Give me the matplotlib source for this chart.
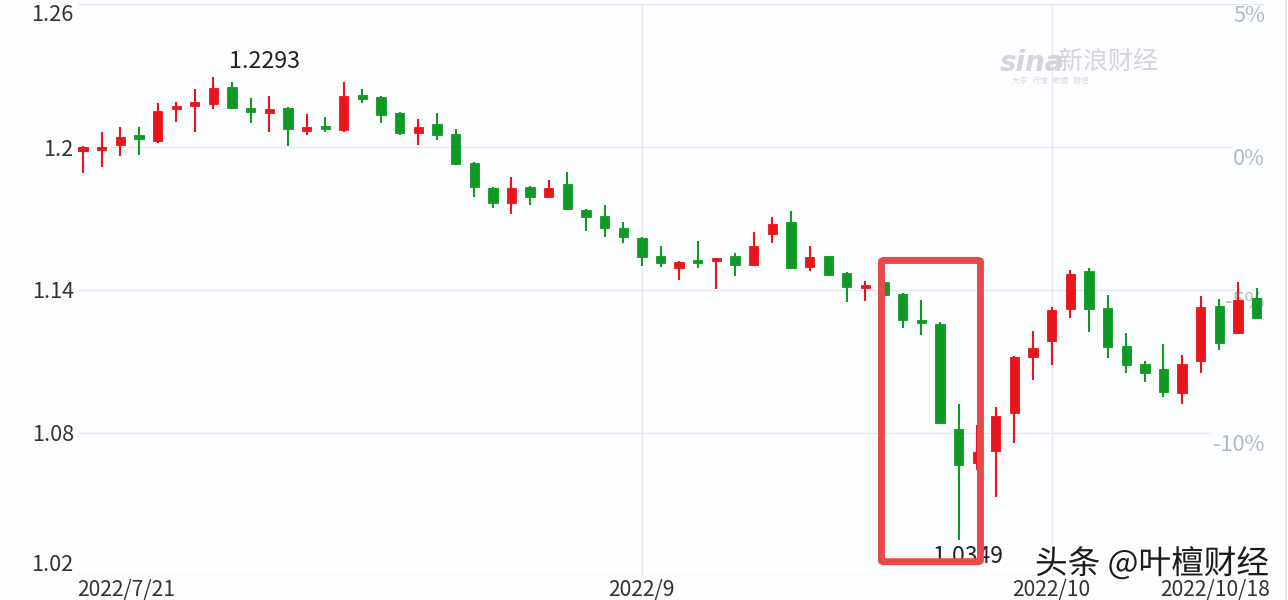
import matplotlib
matplotlib.use("Agg")
import matplotlib.pyplot as plt
import matplotlib.patheffects as pe
import matplotlib.transforms as mtrans
from matplotlib.patches import FancyBboxPatch
import numpy as np
import pandas as pd

plt.rcParams['font.family'] = ['Noto Sans CJK SC', 'DejaVu Sans']

# ---------------- data ----------------
dates = pd.bdate_range("2022-07-21", "2022-10-18")

opens = [1.1987, 1.1992, 1.2008, 1.2050, 1.2025, 1.2160, 1.2176, 1.2181, 1.2252, 1.2164,
         1.2147, 1.2164, 1.2071, 1.2084, 1.2071, 1.2218, 1.2210, 1.2143, 1.2059, 1.2097,
         1.2055, 1.1933, 1.1828, 1.1765, 1.1832, 1.1790, 1.1845, 1.1735, 1.1710, 1.1660,
         1.1618, 1.1542, 1.1492, 1.1525, 1.1521, 1.1542, 1.1504, 1.1635, 1.1685, 1.1496,
         1.1542, 1.1471, 1.1412, 1.1433, 1.1383, 1.1273, 1.1257, 1.0815, 1.0673, 1.0723,
         1.0883, 1.1118, 1.1185, 1.1320, 1.1479, 1.1324, 1.1164, 1.1089, 1.1068, 1.0967,
         1.1101, 1.1332, 1.1219, 1.1366]
closes = [1.1996, 1.1996, 1.2042, 1.2034, 1.2151, 1.2168, 1.2185, 1.2248, 1.2164, 1.2147,
          1.2155, 1.2076, 1.2080, 1.2076, 1.2214, 1.2202, 1.2134, 1.2059, 1.2084, 1.2050,
          1.1929, 1.1832, 1.1765, 1.1828, 1.1790, 1.1828, 1.1739, 1.1706, 1.1660, 1.1622,
          1.1538, 1.1513, 1.1517, 1.1517, 1.1534, 1.1504, 1.1584, 1.1677, 1.1492, 1.1538,
          1.1462, 1.1412, 1.1420, 1.1378, 1.1273, 1.1261, 1.0840, 1.0664, 1.0719, 1.0870,
          1.1118, 1.1156, 1.1315, 1.1467, 1.1320, 1.1160, 1.1084, 1.1050, 1.0972, 1.1089,
          1.1328, 1.1177, 1.1357, 1.1282]
highs = [1.2004, 1.2063, 1.2084, 1.2084, 1.2185, 1.2189, 1.2244, 1.2293, 1.2273, 1.2206,
         1.2214, 1.2168, 1.2139, 1.2126, 1.2273, 1.2244, 1.2214, 1.2147, 1.2118, 1.2143,
         1.2076, 1.1937, 1.1832, 1.1874, 1.1836, 1.1861, 1.1895, 1.1739, 1.1756, 1.1685,
         1.1622, 1.1584, 1.1521, 1.1605, 1.1534, 1.1555, 1.1643, 1.1706, 1.1731, 1.1584,
         1.1542, 1.1475, 1.1437, 1.1437, 1.1387, 1.1357, 1.1265, 1.0920, 1.0832, 1.0908,
         1.1122, 1.1227, 1.1328, 1.1483, 1.1492, 1.1378, 1.1219, 1.1101, 1.1173, 1.1126,
         1.1374, 1.1361, 1.1433, 1.1408]
lows = [1.1891, 1.1916, 1.1962, 1.1966, 1.2017, 1.2105, 1.2063, 1.2160, 1.2160, 1.2101,
        1.2063, 1.2004, 1.2050, 1.2063, 1.2063, 1.2185, 1.2101, 1.2050, 1.2008, 1.2029,
        1.1924, 1.1790, 1.1744, 1.1719, 1.1756, 1.1786, 1.1735, 1.1647, 1.1622, 1.1597,
        1.1500, 1.1496, 1.1441, 1.1492, 1.1403, 1.1458, 1.1500, 1.1597, 1.1488, 1.1479,
        1.1458, 1.1349, 1.1353, 1.1374, 1.1240, 1.1210, 1.0836, 1.0349, 1.0643, 1.0530,
        1.0757, 1.1021, 1.1084, 1.1282, 1.1223, 1.1114, 1.1050, 1.1012, 1.0950, 1.0920,
        1.1050, 1.1147, 1.1214, 1.1278]

y_ticks = [1.02, 1.08, 1.14, 1.2, 1.26]
y_tick_labels = ["1.02", "1.08", "1.14", "1.2", "1.26"]
ref_price = 1.2
pct_ticks = [5, 0, -5, -10]
x_tick_labels = ["2022/7/21", "2022/9", "2022/10", "2022/10/18"]
highlight_range = (43, 48)   # candle indices framed by the red box

# ---------------- figure ----------------
W, H = 1288, 600
fig = plt.figure(figsize=(W / 100, H / 100), dpi=100, facecolor='#fcfdff')
ax = fig.add_axes([78 / W, 24 / H, (1265 - 78) / W, 572 / H])
ax.set_facecolor('#fcfdff')
for s in ax.spines.values():
    s.set_visible(False)

n = len(opens)
x = np.arange(n)
o = np.array(opens); c = np.array(closes); h = np.array(highs); l = np.array(lows)
RED, GREEN = '#e9141c', '#0e9a24'
cols = [RED if cc >= oo else GREEN for oo, cc in zip(o, c)]

ax.set_xlim(-0.27, 63.45)
ax.set_ylim(1.02, 1.26)

# gridlines
grid_c = '#e6e8ee'
xmax_map = {1.26: 1.0, 1.2: (1232 - 78) / 1187, 1.14: (1236 - 78) / 1187,
            1.08: (1210 - 78) / 1187, 1.02: 1.0}
for yv in y_ticks:
    ax.axhline(yv, xmin=0, xmax=xmax_map[yv], color=grid_c, lw=1.0, zorder=0)
d_idx = {}
for i, d in enumerate(dates):
    d_idx.setdefault((d.year, d.month), i)
xt = [0, d_idx[(2022, 9)], d_idx[(2022, 10)], n - 1]
for xv in xt[1:3]:
    ax.axvline(xv, color=grid_c, lw=1.0, zorder=0)

# candles
min_h = 0.0013
bottoms = np.minimum(o, c)
heights = np.maximum(np.abs(c - o), min_h)
bottoms = np.where(np.abs(c - o) < min_h, (o + c) / 2 - min_h / 2, bottoms)
ax.vlines(x, l, h, colors=cols, lw=1.5, zorder=3)
ax.bar(x, heights, bottom=bottoms, width=0.5, color=cols, edgecolor=cols, lw=0.6, zorder=4)

# y tick labels (left)
ax.set_yticks(y_ticks)
ax.set_yticklabels(y_tick_labels)
ax.tick_params(axis='y', length=0, pad=3, labelsize=15.6, labelcolor='#333333')
ylabs = ax.get_yticklabels()
ylabs[0].set_va('bottom')
ylabs[-1].set_va('top')

# x tick labels
ax.set_xticks(xt)
ax.set_xticklabels(x_tick_labels)
ax.tick_params(axis='x', length=0, pad=2.0, labelsize=15.2, labelcolor='#333333')
xlabs = ax.get_xticklabels()
xlabs[0].set_ha('left')
xlabs[-1].set_ha('right')
xlabs[0].set_transform(xlabs[0].get_transform() + mtrans.ScaledTranslation(-6 / 100, 0, fig.dpi_scale_trans))
xlabs[-1].set_transform(xlabs[-1].get_transform() + mtrans.ScaledTranslation(13 / 100, 0, fig.dpi_scale_trans))

# right percent labels
for p in pct_ticks:
    yv = ref_price * (1 + p / 100)
    z = 1 if p == -5 else 5
    ax.annotate(f"{p}%", xy=(1.0, yv), xycoords=('axes fraction', 'data'),
                xytext=(0, -1), textcoords='offset points', ha='right', va='top',
                fontsize=15.6, color='#b3b7bf', zorder=z, annotation_clip=False)

# high / low annotations
ih = int(np.argmax(h)); il = int(np.argmin(l))
ax.annotate(f"{h[ih]:.4f}", xy=(ih, h[ih]), xytext=(11, 3), textcoords='offset points',
            ha='left', va='bottom', fontsize=16.8, color='#222222', zorder=6)
ax.annotate(f"{l[il]:.4f}", xy=(il, l[il]), xytext=(7, -3), textcoords='offset points',
            ha='center', va='top', fontsize=16.5, color='#222222', zorder=6, annotation_clip=False)

# red highlight box
px_per_x = (1265 - 78) / (63.45 + 0.27)
bx0 = highlight_range[0] + (881.5 - (83 + highlight_range[0] * 18.63)) / px_per_x
bx1 = highlight_range[1] + (980.5 - (83 + highlight_range[1] * 18.63)) / px_per_x
box = FancyBboxPatch((bx0, 1.026), bx1 - bx0, 1.1524 - 1.026,
                     boxstyle='round,pad=0,rounding_size=0.15', fill=False,
                     edgecolor='#e84a4c', lw=5.0, zorder=8, mutation_aspect=0.004)
ax.add_patch(box)

# right border
fig.add_artist(plt.Line2D([1286 / W, 1286 / W], [0, 1], color='#e2e4e8', lw=1.2))

# watermarks
fig.text(1000 / W, 1 - 63 / H, "sina", fontsize=20, style='italic', fontweight='bold',
         color='#d3d5d9', family=['DejaVu Sans'], va='center', ha='left')
fig.text(1058 / W, 1 - 62 / H, "新浪财经", fontsize=18, color='#d3d5d9', va='center', ha='left')
fig.text(1012 / W, 1 - 81 / H, "大宗   行情   数据   财经", fontsize=5.5, color='#d8dadd', va='center', ha='left')
fig.text(1035 / W, 1 - 564 / H, "头条 @叶檀财经", fontsize=23.5, color='#1b1b1b', va='center', ha='left',
         path_effects=[pe.withStroke(linewidth=3, foreground='white')])

fig.savefig("out.png", dpi=100, facecolor=fig.get_facecolor())
